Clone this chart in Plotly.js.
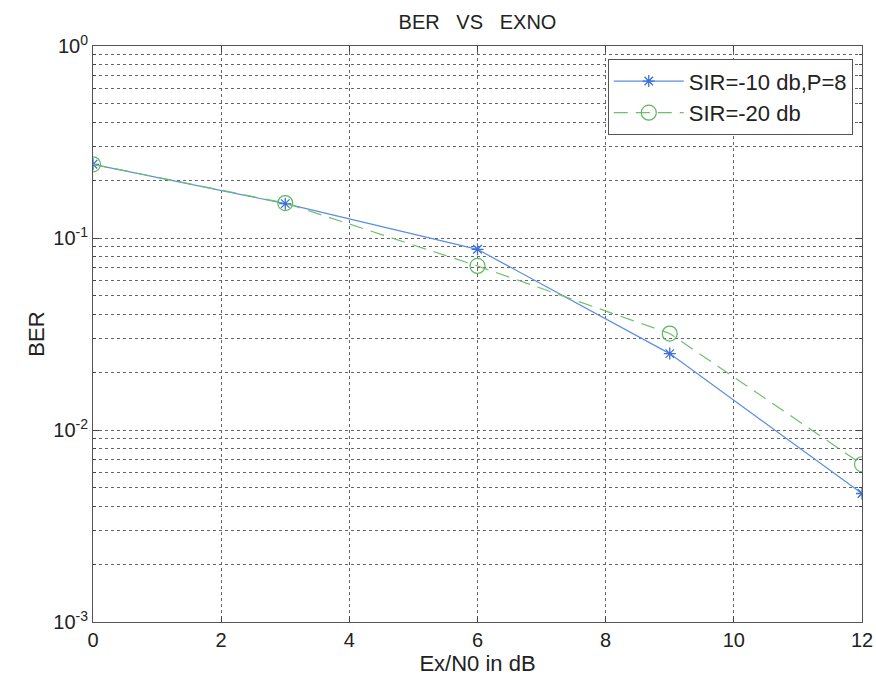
<!DOCTYPE html>
<html>
<head>
<meta charset="utf-8">
<script src="https://cdn.plot.ly/plotly-3.0.1.min.js"></script>
<style>html,body{margin:0;padding:0;background:#fff;}#chart{width:876px;height:685px;}</style>
</head>
<body>
<div id="chart"></div>
<script>
const exno = [0, 3, 6, 9, 12];
const berSir10 = [0.242, 0.151, 0.0873, 0.0250, 0.00467];
const berSir20 = [0.242, 0.152, 0.0715, 0.0318, 0.00663];
const seriesNames = ['SIR=-10 db,P=8', 'SIR=-20 db'];
const xTickVals = [0, 2, 4, 6, 8, 10, 12];
const decadeVals = [0.001, 0.01, 0.1, 1];
const decadeText = ['10<sup>-3</sup>', '10<sup>-2</sup>', '10<sup>-1</sup>', '10<sup>0</sup>'];
const minorMultipliers = [2, 3, 4, 5, 6, 7, 8, 9];

// minor log grid values (2..9 x 10^n)
const yMinorVals = [];
for (let d = 0; d < decadeVals.length - 1; d++) {
  for (const m of minorMultipliers) yMinorVals.push(decadeVals[d] * m);
}

const font = {family: 'Liberation Sans, Arial, sans-serif', color: '#222'};

const traces = [
  {x: exno, y: berSir10, name: seriesNames[0], type: 'scatter', mode: 'lines+markers',
   line: {color: '#5b8ee0', width: 1.2},
   marker: {symbol: 'asterisk-open', size: 10, color: '#3d6fd6', line: {color: '#3d6fd6', width: 1.3}}},
  {x: exno, y: berSir20, name: seriesNames[1], type: 'scatter', mode: 'lines+markers',
   line: {color: '#6cc06c', width: 1.2, dash: '14px,8px'},
   marker: {symbol: 'circle-open', size: 15, color: '#5cb85c', line: {color: '#5cb85c', width: 1.2}}}
];

const gridStyle = {showgrid: true, gridcolor: '#666', gridwidth: 1, griddash: '3px,3px'};

const layout = {
  width: 876, height: 685,
  margin: {l: 93, r: 14, t: 46, b: 63},
  paper_bgcolor: '#fff', plot_bgcolor: '#fff',
  font: Object.assign({size: 20}, font),
  title: {text: 'BER&nbsp;&nbsp;&nbsp;VS&nbsp;&nbsp;&nbsp;EXNO', x: 0.5, xref: 'paper',
          y: 0.968, yref: 'container', yanchor: 'middle',
          font: Object.assign({size: 20}, font)},
  xaxis: Object.assign({
    range: [0, 12], tickvals: xTickVals, ticks: 'inside', ticklen: 6, tickcolor: '#444',
    showline: true, mirror: 'ticks', linecolor: '#555', linewidth: 1,
    zeroline: false, tickfont: Object.assign({size: 20}, font),
    title: {text: 'Ex/N0 in dB', font: Object.assign({size: 22}, font), standoff: 4}
  }, gridStyle),
  yaxis: Object.assign({
    type: 'log', range: [-3, 0], tickmode: 'array', tickvals: decadeVals, ticktext: decadeText,
    ticks: 'inside', ticklen: 6, tickcolor: '#444',
    showline: true, mirror: 'ticks', linecolor: '#555', linewidth: 1,
    zeroline: false, tickfont: Object.assign({size: 20}, font),
    minor: Object.assign({tickmode: 'array', tickvals: yMinorVals, ticks: 'inside', ticklen: 3, tickcolor: '#444'}, gridStyle),
    title: {text: 'BER', font: Object.assign({size: 22}, font), standoff: 2}
  }, gridStyle),
  legend: {
    x: 0.988, xanchor: 'right', y: 0.977, yanchor: 'top',
    bgcolor: '#fff', bordercolor: '#555', borderwidth: 1,
    font: Object.assign({size: 22}, font), itemwidth: 70, tracegroupgap: 0
  },
  showlegend: true
};

Plotly.newPlot('chart', traces, layout, {displayModeBar: false, staticPlot: true});
</script>
</body>
</html>
